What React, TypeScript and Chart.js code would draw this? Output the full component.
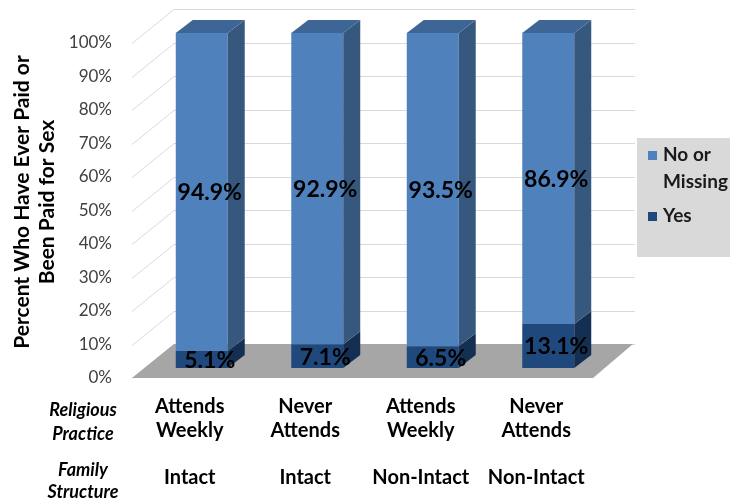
import { useEffect, useRef } from "react";
import { Chart, registerables } from "chart.js";

Chart.register(...registerables);

const religiousPractice = [
  ["Attends", "Weekly"],
  ["Never", "Attends"],
  ["Attends", "Weekly"],
  ["Never", "Attends"],
];
const familyStructure = ["Intact", "Intact", "Non-Intact", "Non-Intact"];
const yesValues = [5.1, 7.1, 6.5, 13.1];
const noValues = [94.9, 92.9, 93.5, 86.9];
const seriesNames = ["Yes", "No or Missing"];
const legendLines = [["No or", "Missing"], ["Yes"]];
const yTitle = ["Percent Who Have Ever Paid or", "Been Paid for Sex"];
const rowHeaders = [["Religious", "Practice"], ["Family", "Structure"]];

const FONT = "Lato, 'Open Sans', sans-serif";
const COLORS = {
  noFront: "#4f81bd",
  noSide: "#36587f",
  noTop: "#3d6696",
  yesFront: "#1f497d",
  yesSide: "#152f52",
  yesTop: "#1a3d68",
};
// 3D offsets
const BX = 17, BY = -13; // bar depth
const FX = -12, FY = 10; // floor front relative to bar plane
const KX = 29, KY = -24; // back wall relative to bar plane

const threeD = {
  id: "threeD",
  beforeDatasetsDraw(chart: any) {
    const { ctx, chartArea: a, scales } = chart;
    const y = scales.y;
    ctx.save();
    ctx.strokeStyle = "#d9d9d9";
    ctx.lineWidth = 1;
    y.ticks.forEach((t: any) => {
      const py = Math.round(y.getPixelForValue(t.value)) + 0.5;
      ctx.beginPath();
      ctx.moveTo(a.left + FX, py + FY);
      ctx.lineTo(a.left + KX + 1, py + KY);
      ctx.lineTo(a.right + KX, py + KY);
      ctx.stroke();
    });
    const p0 = y.getPixelForValue(0);
    ctx.fillStyle = "#a6a6a6";
    ctx.beginPath();
    ctx.moveTo(a.left + FX, p0 + FY);
    ctx.lineTo(a.right + FX - 1, p0 + FY);
    ctx.lineTo(a.right + KX - 2, p0 + KY);
    ctx.lineTo(a.left + KX + 1, p0 + KY);
    ctx.closePath();
    ctx.fill();
    ctx.restore();
  },
  afterDatasetsDraw(chart: any) {
    const { ctx } = chart;
    ctx.save();
    const n = chart.data.datasets.length;
    for (let d = 0; d < n; d++) {
      const meta = chart.getDatasetMeta(d);
      const side = d === 0 ? COLORS.yesSide : COLORS.noSide;
      const top = d === 0 ? COLORS.yesTop : COLORS.noTop;
      meta.data.forEach((el: any) => {
        const { x, y, base, width } = el.getProps(["x", "y", "base", "width"], true);
        const l = x - width / 2;
        const r = x + width / 2;
        ctx.fillStyle = side;
        ctx.beginPath();
        ctx.moveTo(r, y);
        ctx.lineTo(r + BX, y + BY);
        ctx.lineTo(r + BX, base + BY);
        ctx.lineTo(r, base);
        ctx.closePath();
        ctx.fill();
        if (d === n - 1) {
          ctx.fillStyle = top;
          ctx.beginPath();
          ctx.moveTo(l, y);
          ctx.lineTo(l + BX, y + BY);
          ctx.lineTo(r + BX, y + BY);
          ctx.lineTo(r, y);
          ctx.closePath();
          ctx.fill();
        }
      });
    }
    // data labels
    ctx.fillStyle = "#000000";
    ctx.font = `bold 23px ${FONT}`;
    ctx.textAlign = "center";
    ctx.textBaseline = "middle";
    for (let d = 0; d < n; d++) {
      const meta = chart.getDatasetMeta(d);
      const vals = chart.data.datasets[d].data;
      meta.data.forEach((el: any, i: number) => {
        const { x, y, base } = el.getProps(["x", "y", "base"], true);
        ctx.fillText(`${vals[i].toFixed(1)}%`, x + 8, (y + base) / 2 + 1);
      });
    }
    ctx.restore();
  },
  afterDraw(chart: any) {
    const { ctx } = chart;
    ctx.save();
    // y title
    ctx.fillStyle = "#000000";
    ctx.font = `bold 21px ${FONT}`;
    ctx.textAlign = "center";
    ctx.textBaseline = "middle";
    ctx.translate(22, 202);
    ctx.rotate(-Math.PI / 2);
    yTitle.forEach((line, i) => ctx.fillText(line, 0, i * 25));
    ctx.restore();

    ctx.save();
    ctx.fillStyle = "#000000";
    ctx.font = `italic bold 18px ${FONT}`;
    ctx.textAlign = "center";
    ctx.textBaseline = "middle";
    ctx.fillText(rowHeaders[0][0], 83, 410);
    ctx.fillText(rowHeaders[0][1], 83, 434);
    ctx.fillText(rowHeaders[1][0], 83, 470);
    ctx.fillText(rowHeaders[1][1], 83, 492);

    // legend
    ctx.fillStyle = "#d9d9d9";
    ctx.fillRect(637, 138, 93, 119);
    ctx.font = `bold 19px ${FONT}`;
    ctx.textAlign = "left";
    const swatch = [COLORS.noFront, COLORS.yesFront];
    const ys = [155, 216];
    legendLines.forEach((lines, i) => {
      ctx.fillStyle = swatch[i];
      ctx.fillRect(648, ys[i] - 4, 9, 9);
      ctx.fillStyle = "#1a1a1a";
      lines.forEach((t, j) => ctx.fillText(t, 663, ys[i] + j * 27));
    });
    ctx.restore();
  },
};

export default function App() {
  const ref = useRef<HTMLCanvasElement | null>(null);
  useEffect(() => {
    if (!ref.current) return;
    const labels = religiousPractice.map((r, i) => [...r, "", familyStructure[i]]);
    const chart = new Chart(ref.current, {
      type: "bar",
      data: {
        labels,
        datasets: [
          {
            label: seriesNames[0],
            data: yesValues,
            backgroundColor: COLORS.yesFront,
            barPercentage: 0.45,
            categoryPercentage: 1,
          },
          {
            label: seriesNames[1],
            data: noValues,
            backgroundColor: COLORS.noFront,
            barPercentage: 0.45,
            categoryPercentage: 1,
          },
        ],
      },
      options: {
        animation: false,
        responsive: false,
        maintainAspectRatio: false,
        layout: { padding: { top: 33, right: 124, bottom: 0, left: 0 } },
        plugins: { legend: { display: false }, tooltip: { enabled: false } },
        scales: {
          x: {
            stacked: true,
            grid: { display: false, drawTicks: false },
            border: { display: false },
            afterFit: (s: any) => {
              s.height = 130;
              s.paddingLeft = 0;
              s.paddingRight = 0;
            },
            ticks: {
              autoSkip: false,
              maxRotation: 0,
              minRotation: 0,
              padding: 27,
              labelOffset: -12,
              color: "#000000",
              font: { family: FONT, size: 20, weight: "bold", lineHeight: 1.175 },
            },
          },
          y: {
            stacked: true,
            min: 0,
            max: 100,
            grid: { display: false, drawTicks: false },
            border: { display: false },
            afterFit: (s: any) => {
              s.width = 144;
              s.paddingTop = 0;
              s.paddingBottom = 0;
            },
            ticks: {
              stepSize: 10,
              padding: 32,
              labelOffset: 10,
              color: "#404040",
              font: { family: FONT, size: 17 },
              callback: (v: any) => `${v}%`,
            },
          },
        },
      },
      plugins: [threeD],
    });
    return () => chart.destroy();
  }, []);
  return (
    <div style={{ position: "fixed", left: 0, top: 0, width: 730, height: 498, background: "#ffffff" }}>
      <canvas ref={ref} width={730} height={498} style={{ width: 730, height: 498 }} />
    </div>
  );
}
